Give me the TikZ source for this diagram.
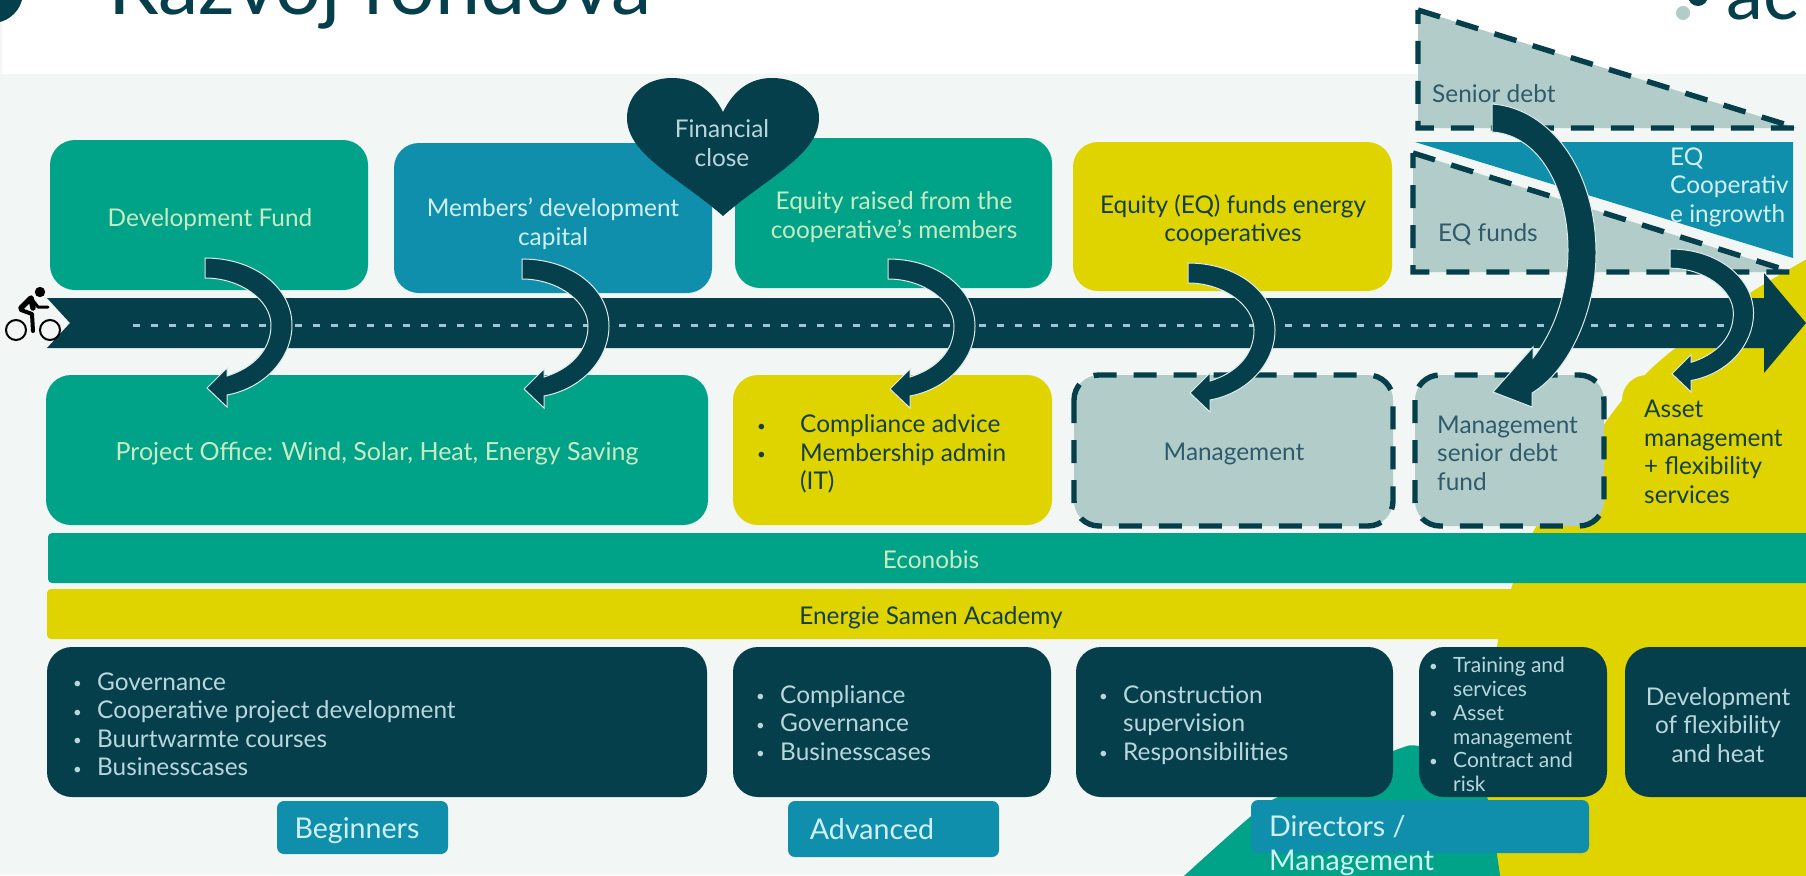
\documentclass[tikz,border=0pt]{standalone}
\usepackage{fontspec}
\setmainfont{Lato}
\definecolor{bgl}{HTML}{F2F6F5}
\definecolor{teal1}{HTML}{00A388}
\definecolor{blue1}{HTML}{0F8FAB}
\definecolor{yel1}{HTML}{E0D400}
\definecolor{dark1}{HTML}{053F4C}
\definecolor{grey1}{HTML}{B2CDC9}
\definecolor{tteal}{HTML}{C9EBC4}
\definecolor{tblue}{HTML}{D0F0F5}
\definecolor{tdark}{HTML}{B9D6DC}
\definecolor{tgrey}{HTML}{2F5A6C}
\definecolor{tyel}{HTML}{143F42}
\definecolor{dashc}{HTML}{9FC4DC}
\definecolor{edge1}{HTML}{DCEAEA}
\newcommand{\dotb}{\raisebox{1.5pt}{\fontsize{15}{15}\selectfont •}}
\newcommand{\bl}{\makebox[24pt][l]{\dotb}}
\newcommand{\ind}{\hspace*{24pt}}
\newcommand{\arrowshape}[3]{%
 \begin{scope}[shift={(#1,#2)},scale=#3]
 \draw[arrowst] (0,0) .. controls (50,0) and (87,30) .. (87,67) .. controls (87,100) and (60,130) .. (22,137)
   -- (22,149) -- (2,130) -- (22,110) -- (22,118) .. controls (48,110) and (66,92) .. (66,67) .. controls (66,42) and (35,20) .. (0,20) -- cycle;
 \end{scope}}
\tikzset{
 x=1pt,y=-1pt,
 boxr/.style={rounded corners=25pt},
 lab/.style={rounded corners=7pt,fill=blue1},
 dashbox/.style={draw=dark1,line width=5.4pt,dash pattern=on 23pt off 17pt,fill=grey1},
 arrowst/.style={fill=dark1,draw=edge1,line width=1pt,line join=miter},
 t/.style={inner sep=0pt,font=\fontsize{24.4}{28.5}\selectfont,align=center},
 tl/.style={t,align=left,anchor=west},
}
\begin{document}
\begin{tikzpicture}
\useasboundingbox (0,0) rectangle (1806,875);
\clip (0,0) rectangle (1806,875);
% page
\fill[white] (0,0) rectangle (1806,875);
\fill[bgl] (0,74) rectangle (1806,875);
\fill[bgl] (0,0) rectangle (2,74);
% top furniture
\fill[dark1] (-8,-8) circle (31);
\node[inner sep=0pt,anchor=base west,text=dark1,font=\fontsize{81}{82}\selectfont] (title) at (108,15) {Razvoj fondova};
\fill[grey1] (1683,13) circle (7);
\fill[dark1] (1698,-4) circle (10);
\node[inner sep=0pt,anchor=base west,text=dark1,font=\fontsize{74}{74}\selectfont] (logo) at (1726,20) {ac};
% background blobs
\fill[yel1] plot[smooth] coordinates {(1840,240) (1750,293) (1673,350) (1640,380) (1605,423) (1533,532) (1513,583) (1498,640) (1485,760) (1480,885)} -- (1840,885) -- cycle;
\fill[teal1] plot[smooth] coordinates {(1170,890) (1185,875) (1250,817) (1278,797) (1393,751) (1419,746) (1470,760) (1488,800) (1497,855) (1502,890)} -- cycle;
% top boxes
\fill[boxr,teal1] (50,140) rectangle (368,290);
\fill[boxr,blue1] (394,143) rectangle (712,293);
\fill[boxr,teal1] (735,138) rectangle (1052,288);
\fill[boxr,yel1] (1073,142) rectangle (1392,291);
% heart
\fill[dark1] (723,216) .. controls (680,178) and (627,155) .. (627,118) .. controls (627,95) and (645,78) .. (672,78) .. controls (695,78) and (712,90) .. (723,112) .. controls (734,90) and (750,78) .. (772,78) .. controls (800,78) and (819,95) .. (819,118) .. controls (819,155) and (766,178) .. (723,216) -- cycle;
% triangles
\draw[dashbox] (1418,10) -- (1797,128) -- (1418,128) -- cycle;
\fill[blue1] (1415,142) -- (1793,142) -- (1793,258) -- cycle;
\draw[dashbox] (1413,153) -- (1792,272) -- (1413,272) -- cycle;
% road
\fill[dark1] (47,298) -- (1764,298) -- (1764,273) -- (1806,323) -- (1764,373) -- (1764,348) -- (47,348) -- (70,323) -- cycle;
\draw[dashc,line width=2.4pt,dash pattern=on 7pt off 11pt] (133,325.5) -- (1742,325.5);
% cyclist
\begin{scope}[black]
\draw[line width=2pt] (16,330) circle (10) (50,330) circle (10);
\fill (40,292) circle (5.2);
\draw[line width=5.5pt,line cap=round,line join=round] (21,308) -- (31,298) -- (33,308);
\draw[line width=3pt,line cap=round,line join=round] (31,298) -- (38,307) -- (48,307);
\draw[line width=4pt,line cap=round,line join=round] (21,310) -- (32,314) -- (33,331);
\end{scope}
% middle boxes
\fill[boxr,teal1] (46,375) rectangle (708,525);
\fill[boxr,yel1] (733,375) rectangle (1052,525);
\draw[boxr,dashbox] (1074,375) rectangle (1393,526);
\draw[boxr,dashbox] (1415,375) rectangle (1604,526);
\fill[boxr,yel1] (1622,375) rectangle (1840,526);
% bars
\fill[rounded corners=4pt,teal1] (48,533) rectangle (1840,583);
\fill[rounded corners=4pt,yel1] (47,589) rectangle (1840,639);
% lower boxes
\fill[boxr,dark1] (47,647) rectangle (707,797);
\fill[boxr,dark1] (733,647) rectangle (1051,797);
\fill[boxr,dark1] (1076,647) rectangle (1393,797);
\fill[boxr,dark1] (1419,647) rectangle (1607,797);
\fill[boxr,dark1] (1625,647) rectangle (1840,797);
% audience labels
\fill[lab] (277,801) rectangle (448,854);
\fill[lab] (788,801) rectangle (999,857);
\fill[lab] (1251,800) rectangle (1589,853);
% texts
\node[t,text=tteal] (devfund) at (210,219.5) {Development Fund};
\node[t,text=tblue] (members) at (553,224) {Members' development\\capital};
\node[t,text=tdark] (finclose) at (722,143) {Financial\\close};
\node[t,text=tteal] (eqraised) at (894,217) {Equity raised from the\\cooperative's members};
\node[t,text=tyel] (eqfunds) at (1233,220) {Equity (EQ) funds energy\\cooperatives};
\node[t,text=tteal,font=\fontsize{25}{28.5}\selectfont] (office) at (377,454) {Project Office: Wind, Solar, Heat, Energy Saving};
\node[tl,text=tyel] (compl) at (757,454) {\makebox[43pt][l]{\dotb}Compliance advice\\\makebox[43pt][l]{\dotb}Membership admin\\\hspace*{43pt}(IT)};
\node[t,text=tgrey] (mgmt) at (1234,454) {Management};
\node[tl,text=tgrey] (mgmtsd) at (1437,453) {Management\\senior debt\\fund};
\node[tl,text=tyel] (asset) at (1644,452) {Asset\\management\\+ flexibility\\services};
\node[t,text=tteal] (econobis) at (931,560) {Econobis};
\node[t,text=tyel] (academy) at (931,618) {Energie Samen Academy};
\node[tl,text=tdark] (lista) at (73,724) {\bl Governance\\\bl Cooperative project development\\\bl Buurtwarmte courses\\\bl Businesscases};
\node[tl,text=tdark] (listb) at (756,723) {\bl Compliance\\\bl Governance\\\bl Businesscases};
\node[tl,text=tdark] (listc) at (1099,725) {\bl Construction\\\ind supervision\\\bl Responsibilities};
\node[tl,text=tdark,font=\fontsize{21}{23.7}\selectfont] (listd) at (1429,724.5) {\bl Training and\\\ind services\\\bl Asset\\\ind management\\\bl Contract and\\\ind risk};
\node[t,text=tdark] (flex) at (1718,725) {Development\\of flexibility\\and heat};
\node[t,text=tblue,font=\fontsize{28.6}{34}\selectfont] (beg) at (357,831) {Beginners};
\node[t,text=tblue,font=\fontsize{28.6}{34}\selectfont] (adv) at (872,829) {Advanced};
\node[tl,text=tblue,font=\fontsize{28.6}{34}\selectfont] (dir) at (1269,846) {Directors /\\Management};
\node[tl,text=tgrey] (senior) at (1432,94) {Senior debt};
\node[tl,text=tgrey] (eqf) at (1438,234) {EQ funds};
\node[tl,text=tblue] (eqc) at (1670,187) {EQ\\Cooperativ\\e ingrowth};
% curved arrows
\arrowshape{205}{258}{1}
\arrowshape{522}{259}{1}
\arrowshape{888}{259}{1}
\arrowshape{1188}{263}{1}
\draw[arrowst] (1492,104) .. controls (1550,108) and (1596,170) .. (1596,253) .. controls (1596,310) and (1570,370) .. (1532,393) -- (1532,407) -- (1493,392) -- (1533,347) -- (1533,358) .. controls (1555,330) and (1568,290) .. (1568,250) .. controls (1568,190) and (1540,135) .. (1492,132) -- cycle;
\arrowshape{1670}{249}{0.96}
\end{tikzpicture}
\end{document}
